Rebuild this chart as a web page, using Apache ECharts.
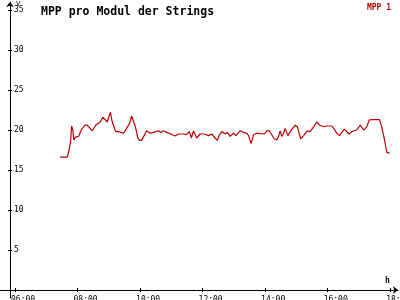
<!DOCTYPE html>
<html><head><meta charset="utf-8">
<script src="https://cdn.jsdelivr.net/npm/echarts@6/dist/echarts.min.js"></script>
<style>html,body{margin:0;padding:0;background:#fff}#c{width:400px;height:300px}</style>
</head><body><div id="c"></div>
<script>
// time of day in hours
const times = [7.44,7.67,7.73,7.78,7.81,7.85,7.88,7.93,8.03,8.13,8.24,8.31,8.47,8.58,8.72,8.81,8.95,9.05,9.11,9.22,9.31,9.47,9.57,9.66,9.73,9.79,9.85,9.93,9.98,10.05,10.21,10.32,10.43,10.59,10.66,10.75,10.85,10.98,11.12,11.23,11.39,11.47,11.58,11.64,11.71,11.81,11.92,12.05,12.19,12.29,12.40,12.47,12.54,12.62,12.72,12.79,12.88,12.99,13.06,13.20,13.31,13.41,13.47,13.55,13.63,13.73,13.79,13.97,14.05,14.13,14.21,14.29,14.37,14.43,14.48,14.53,14.59,14.64,14.69,14.73,14.80,14.96,15.03,15.14,15.23,15.35,15.44,15.55,15.65,15.74,15.89,15.97,16.14,16.29,16.38,16.42,16.53,16.59,16.69,16.77,16.85,16.93,17.04,17.15,17.25,17.33,17.41,17.66,17.73,17.82,17.89,17.98];
// MPP 1 voltage per module (V)
const mpp1 = [16.6,16.6,17.5,18.7,20.5,20.0,18.75,19.1,19.2,20.1,20.6,20.6,19.9,20.6,21.0,21.6,21.0,22.2,21.0,19.8,19.8,19.6,20.2,20.8,21.75,21.8,20.4,19.0,18.7,18.7,19.9,19.6,19.7,19.9,19.7,19.9,19.7,19.5,19.25,19.5,19.5,19.4,19.8,19.0,19.9,19.0,19.5,19.5,19.3,19.5,19.0,18.7,19.4,19.8,19.5,19.7,19.2,19.6,19.3,19.9,19.7,19.6,19.3,18.3,19.4,19.6,19.5,19.5,19.9,19.9,19.4,18.9,18.75,19.2,19.9,19.2,19.6,20.2,19.7,19.3,19.8,20.6,20.4,18.9,19.3,19.9,19.8,20.4,21.0,20.6,20.4,20.5,20.5,19.6,19.3,19.3,20.1,20.2,19.5,19.8,19.9,20.0,20.6,20.0,20.4,21.25,21.3,21.3,20.4,18.75,17.2,17.1];
const xTicks = [6,8,10,12,14,16,18];
const yTicks = [5,10,15,20,25,30,35];
const seriesName = 'MPP 1';
const titleText = 'MPP pro Modul der Strings';
const xUnit = 'h';
const yUnit = 'V';

const font = 'DejaVu Sans Mono';
const pad2 = v => (v < 10 ? '0' : '') + v;
const chart = echarts.init(document.getElementById('c'), null, {renderer: 'canvas'});
const axisBase = {
  type: 'value', splitLine: {show: false}
};
chart.setOption({
  animation: false,
  backgroundColor: '#fff',
  title: [
    {text: titleText, left: 36, top: 1, textStyle: {fontFamily: font, fontSize: 11.5, fontWeight: 'bold', color: '#000'}},
    {text: yUnit, left: 11, top: -4, textStyle: {fontFamily: font, fontSize: 7, fontWeight: 'normal', color: '#000'}},
    {text: xUnit, left: 380, top: 272, textStyle: {fontFamily: font, fontSize: 8, fontWeight: 'bold', color: '#000'}}
  ],
  legend: {data: [seriesName], right: 4, top: -1, itemWidth: 0, itemHeight: 0, icon: 'none',
    textStyle: {fontFamily: font, fontSize: 8, fontWeight: 'bold', color: '#c00000'}},
  grid: {left: 0, right: 2, top: 2, bottom: 2, containLabel: false, outerBoundsMode: 'none'},
  xAxis: [
    Object.assign({}, axisBase, {
      min: 5.52, max: 18.25, position: 'bottom',
      axisLine: {onZero: true, symbol: ['none','arrow'], symbolSize: [6,5], lineStyle: {color: '#000', width: 1}},
      axisTick: {customValues: xTicks, length: 2, lineStyle: {color: '#000'}},
      axisLabel: {customValues: xTicks, formatter: v => pad2(v) + ':00', align: 'left', verticalAlign: 'top', lineHeight: 8, margin: -2, padding: [0,0,0,-4],
        hideOverlap: false, fontFamily: font, fontSize: 8, color: '#000'}
    }),
    Object.assign({}, axisBase, {
      min: 5.52, max: 18.25, position: 'bottom',
      axisLine: {show: false, onZero: true, onZeroAxisIndex: 0},
      axisTick: {customValues: xTicks, inside: true, length: 2, lineStyle: {color: '#000'}},
      axisLabel: {show: false}
    })
  ],
  yAxis: [
    Object.assign({}, axisBase, {
      min: -1, max: 36, position: 'left', offset: -10,
      axisLine: {symbol: ['none','arrow'], symbolSize: [6,5], lineStyle: {color: '#000', width: 1}},
      axisTick: {customValues: yTicks, length: 2, lineStyle: {color: '#000'}},
      axisLabel: {customValues: yTicks, inside: true, margin: 4, fontFamily: font, fontSize: 8, color: '#000'}
    }),
    Object.assign({}, axisBase, {
      min: -1, max: 36, position: 'left', offset: -10,
      axisLine: {show: false},
      axisTick: {customValues: yTicks, inside: true, length: 2, lineStyle: {color: '#000'}},
      axisLabel: {show: false}
    })
  ],
  series: [{
    name: seriesName, type: 'line', xAxisIndex: 0, yAxisIndex: 0,
    data: times.map((t, i) => [t, mpp1[i]]),
    showSymbol: false, symbol: 'none',
    lineStyle: {color: '#c00000', width: 1.2}, itemStyle: {color: '#c00000'}
  }]
});
</script></body></html>
